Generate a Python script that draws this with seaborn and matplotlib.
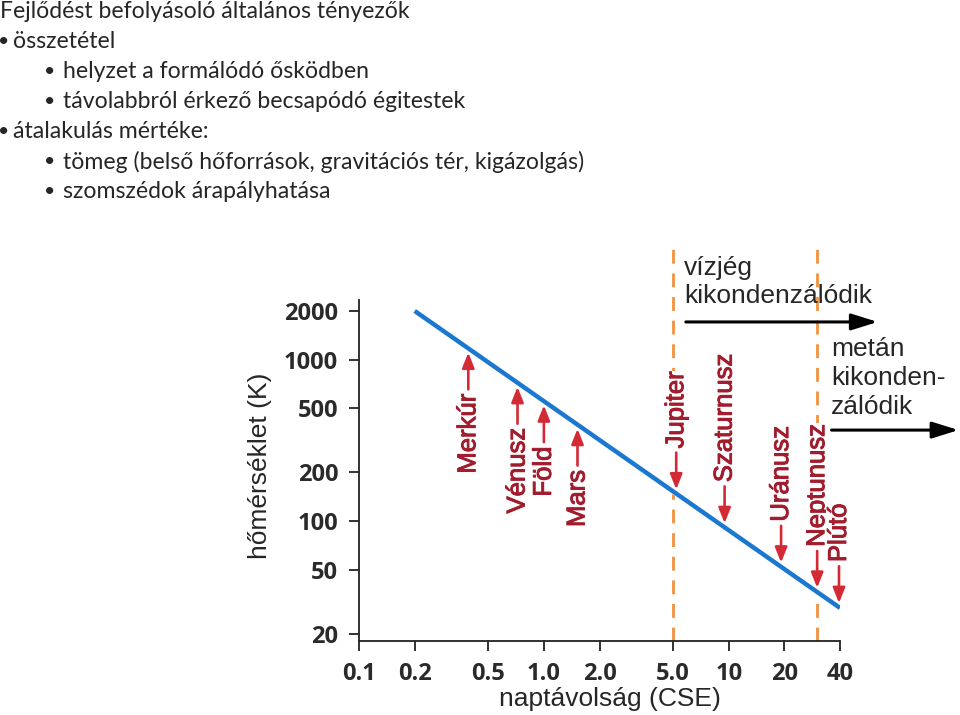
import numpy as np
import pandas as pd
import matplotlib
matplotlib.use("Agg")
import matplotlib.pyplot as plt
import matplotlib.patheffects as pe
import seaborn as sns

# temperature of the nebula vs. distance from the Sun (log-log, straight line)
curve_dist = [0.2, 40.0]
curve_temp = [2000.0, 29.0]

planet_names = ["Merkúr", "Vénusz", "Föld", "Mars",
                "Jupiter", "Szaturnusz", "Uránusz", "Neptunusz", "Plútó"]
planet_dist = [0.39, 0.72, 1.0, 1.52, 5.2, 9.5, 19.2, 30.1, 39.5]
planet_side = ["below", "below", "below", "below",
               "above", "above", "above", "above", "above"]

# condensation lines
frost_dist = [5.0, 30.0]
frost_labels = ["vízjég\nkikondenzálódik", "metán\nkikonden-\nzálódik"]

x_ticks = [0.1, 0.2, 0.5, 1.0, 2.0, 5.0, 10, 20, 40]
x_ticklabels = ["0.1", "0.2", "0.5", "1.0", "2.0", "5.0", "10", "20", "40"]
y_ticks = [20, 50, 100, 200, 500, 1000, 2000]
y_ticklabels = ["20", "50", "100", "200", "500", "1000", "2000"]

slide_lines = [
    (0, "Fejlődést befolyásoló általános tényezők"),
    (1, "összetétel"),
    (2, "helyzet a formálódó ősködben"),
    (2, "távolabbról érkező becsapódó égitestek"),
    (1, "átalakulás mértéke:"),
    (2, "tömeg (belső hőforrások, gravitációs tér, kigázolgás)"),
    (2, "szomszédok árapályhatása"),
]

sns.set_style("ticks")
plt.rcParams["font.family"] = ["Liberation Sans", "DejaVu Sans"]

fig = plt.figure(figsize=(9.6, 7.15), dpi=100)
ax = fig.add_axes([0.374, 0.1035, 0.501, 0.477])

df = pd.DataFrame({"dist": curve_dist, "temp": curve_temp})
sns.lineplot(data=df, x="dist", y="temp", ax=ax, color="#1b78d0", linewidth=3.2,
             solid_capstyle="butt", zorder=2)

ax.set_xscale("log")
ax.set_yscale("log")
ax.set_xlim(0.1, 40)
ax.set_ylim(18.1, 2340)
ax.minorticks_off()
ax.set_xticks(x_ticks)
ax.set_xticklabels(x_ticklabels)
ax.set_yticks(y_ticks)
ax.set_yticklabels(y_ticklabels)
sns.despine(ax=ax)
for s in ["left", "bottom"]:
    ax.spines[s].set_linewidth(1.3)
    ax.spines[s].set_color("#222222")
ax.tick_params(length=7, width=1.3, color="#222222", pad=8,
               labelsize=17, labelcolor="#2a2a2a")
for lab in ax.get_xticklabels() + ax.get_yticklabels():
    lab.set_fontfamily("Open Sans")
    lab.set_fontweight("bold")

ax.set_xlabel("naptávolság (CSE)", fontsize=19)
ax.set_ylabel("hőmérséklet (K)", fontsize=19)
ax.xaxis.set_label_coords(0.522, -0.135)
ax.yaxis.set_label_coords(-0.18, 0.513)

# frost lines
for d in frost_dist:
    ax.axvline(d, ymin=0, ymax=1.16, color="#f0923e", linewidth=2,
               dashes=(5, 3.5), clip_on=False, zorder=1)

# planet arrows
arrow_red = "#d42a35"
label_red = "#a11d2d"
thick = [pe.withStroke(linewidth=0.7, foreground=label_red)]
logd = np.log10(curve_dist)
logt = np.log10(curve_temp)
for name, d, side in zip(planet_names, planet_dist, planet_side):
    t = 10 ** np.interp(np.log10(d), logd, logt)
    sgn = -1 if side == "below" else 1
    # white strip under the arrow hides the dashed frost lines
    ax.annotate("", xy=(d, t), xytext=(0, sgn * 32), textcoords="offset points",
                arrowprops=dict(arrowstyle="-", color="white", lw=9,
                                shrinkA=0, shrinkB=3), zorder=1.5)
    ax.annotate("", xy=(d, t), xytext=(0, sgn * 29.5), textcoords="offset points",
                arrowprops=dict(arrowstyle="-|>,head_length=0.65,head_width=0.26",
                                mutation_scale=14, color=arrow_red, lw=1.9,
                                shrinkA=0, shrinkB=3), zorder=3)
    ax.annotate(name, xy=(d, t), xytext=(0, sgn * 32.5), textcoords="offset points",
                rotation=90, ha="center", va="top" if side == "below" else "bottom",
                fontsize=18.5, color=label_red, zorder=3, path_effects=thick,
                bbox=dict(fc="white", ec="none", pad=0.5))

# condensation annotations
ax.annotate(frost_labels[0], xy=(frost_dist[0], 2340), xytext=(8, -6),
            textcoords="offset points", ha="left", va="bottom", fontsize=19,
            linespacing=1.2, annotation_clip=False)
ax.annotate("", xy=(64, 1710), xytext=(5.86, 1710), xycoords="data",
            arrowprops=dict(arrowstyle="-|>,head_length=0.8,head_width=0.25",
                            mutation_scale=20, color="black", lw=2.2,
                            shrinkA=0, shrinkB=0), annotation_clip=False)
ax.annotate(frost_labels[1], xy=(frost_dist[1], 366), xytext=(10, 8),
            textcoords="offset points", ha="left", va="bottom", fontsize=19,
            linespacing=1.25, annotation_clip=False)
ax.annotate("", xy=(175, 366), xytext=(36, 366), xycoords="data",
            arrowprops=dict(arrowstyle="-|>,head_length=0.8,head_width=0.25",
                            mutation_scale=20, color="black", lw=2.2,
                            shrinkA=0, shrinkB=0), annotation_clip=False)

# slide text
bullet_x = {1: 4, 2: 50}
text_x = {0: 0, 1: 13, 2: 63}
for i, (lvl, txt) in enumerate(slide_lines):
    y = 1 - (12 + 30 * i) / 715
    if lvl > 0:
        fig.text(bullet_x[lvl] / 960, y, "•", fontsize=14, family="Lato",
                 va="center", ha="center")
    fig.text(text_x[lvl] / 960, y, txt, fontsize=16.6, family="Lato",
             va="center", ha="left")

fig.savefig("out.png", dpi=100)
